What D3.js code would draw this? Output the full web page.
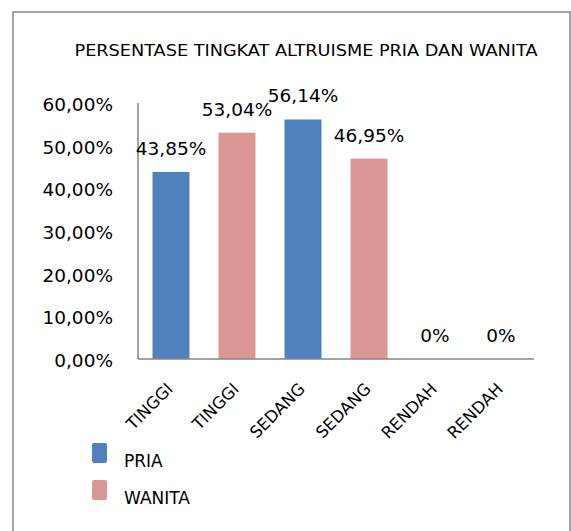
<!DOCTYPE html>
<html>
<head>
<meta charset="utf-8">
<script src="https://cdn.jsdelivr.net/npm/d3@7"></script>
<style>
 body { margin:0; background:#fff; }
 text { font-family:"DejaVu Sans", sans-serif; fill:#000; }
</style>
</head>
<body>
<div id="chart"></div>
<script>
// data
var categories = ["TINGGI","TINGGI","SEDANG","SEDANG","RENDAH","RENDAH"];
var values = [43.85, 53.04, 56.14, 46.95, 0, 0];
var series = ["PRIA","WANITA","PRIA","WANITA","PRIA","WANITA"];
var valueLabels = ["43,85%","53,04%","56,14%","46,95%","0%","0%"];
var yTicks = [0,10,20,30,40,50,60];
var legendNames = ["PRIA","WANITA"];
var title = "PERSENTASE TINGKAT ALTRUISME PRIA DAN WANITA";

var colors = {"PRIA":"#4F81BD","WANITA":"#D99694"};
var axisColor = "#868686";

var W = 571, H = 531;
var svg = d3.select("#chart").append("svg")
    .attr("width",W)
    .attr("height",H);

// outer chart border (bottom edge runs off the picture)
svg.append("rect")
    .attr("x",13).attr("y",12)
    .attr("width",557).attr("height",540)
    .attr("fill","none")
    .attr("stroke",axisColor)
    .attr("stroke-width",1.5);

svg.append("text")
    .attr("x",306).attr("y",56)
    .attr("text-anchor","middle")
    .attr("textLength",463)
    .attr("lengthAdjust","spacingAndGlyphs")
    .style("font-size","16px")
    .text(title);

var x0 = 138, x1 = 534, yTop = 103, yBase = 359;

// index based band so the repeated category names stay separate
var x = d3.scaleBand()
    .domain(d3.range(categories.length))
    .range([x0,x1])
    .paddingInner(0.44)
    .paddingOuter(0.22);

var y = d3.scaleLinear()
    .domain([0,60])
    .range([yBase,yTop]);

// y axis labels (no tick marks)
var yAxis = svg.append("g")
    .attr("transform","translate(" + x0 + ",0)")
    .call(d3.axisLeft(y).tickValues(yTicks).tickSize(0).tickPadding(25)
          .tickFormat(function(d){ return d3.format(".2f")(d).replace(".",",") + "%"; }));
yAxis.select(".domain").remove();
yAxis.selectAll("text")
    .style("font-size","18.5px")
    .style("font-family","'DejaVu Sans', sans-serif")
    .attr("dy","0.4em")
    .attr("fill","#000");

svg.append("line")
    .attr("x1",x0).attr("x2",x0)
    .attr("y1",yTop).attr("y2",yBase)
    .attr("stroke",axisColor).attr("stroke-width",1.5);

// bars
svg.selectAll("rect.bar")
    .data(values)
    .enter()
    .append("rect")
    .attr("class","bar")
    .attr("x",function(d,i){ return x(i); })
    .attr("width",x.bandwidth())
    .attr("y",function(d){ return y(d); })
    .attr("height",function(d){ return yBase - y(d); })
    .attr("fill",function(d,i){ return colors[series[i]]; });

svg.append("line")
    .attr("x1",x0).attr("x2",x1)
    .attr("y1",yBase).attr("y2",yBase)
    .attr("stroke",axisColor).attr("stroke-width",1.5);

// value labels
svg.selectAll("text.val")
    .data(values)
    .enter()
    .append("text")
    .attr("class","val")
    .attr("x",function(d,i){ return x(i) + x.bandwidth()/2; })
    .attr("y",function(d){ return y(d) - 17; })
    .attr("text-anchor","middle")
    .style("font-size","18.5px")
    .text(function(d,i){ return valueLabels[i]; });

// rotated category labels
svg.selectAll("text.cat")
    .data(categories)
    .enter()
    .append("text")
    .attr("class","cat")
    .attr("transform",function(d,i){
        return "translate(" + (x(i) + x.bandwidth()/2 + 3) + "," + 390 + ") rotate(-45)";
    })
    .attr("text-anchor","end")
    .style("font-size","16.5px")
    .text(function(d){ return d; });

// legend
var legend = svg.selectAll("g.legend")
    .data(legendNames)
    .enter()
    .append("g")
    .attr("class","legend")
    .attr("transform",function(d,i){ return "translate(92," + (443 + i*37) + ")"; });

legend.append("rect")
    .attr("width",15).attr("height",20)
    .attr("rx",2).attr("ry",2)
    .attr("fill",function(d){ return colors[d]; });

legend.append("text")
    .attr("x",32).attr("y",24)
    .style("font-size","17px")
    .text(function(d){ return d; });
</script>
</body>
</html>
